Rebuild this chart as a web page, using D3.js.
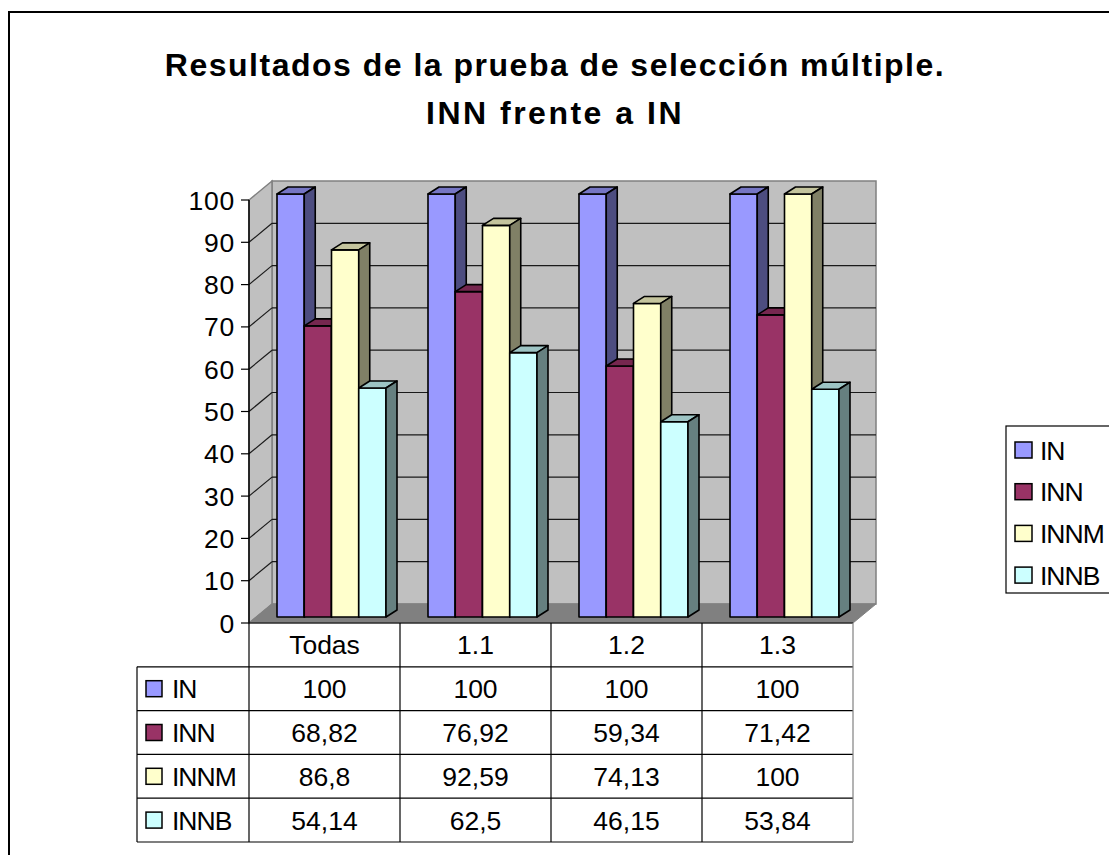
<!DOCTYPE html>
<html>
<head>
<meta charset="utf-8">
<script src="https://cdn.jsdelivr.net/npm/d3@7"></script>
<style>
  body { margin: 0; background: #fff; }
  svg text { font-family: "Liberation Sans", Arial, Helvetica, sans-serif; fill: #000; }
</style>
</head>
<body>
<div id="chart"></div>
<script>
// categories and series
var categories = ["Todas", "1.1", "1.2", "1.3"];
var seriesNames = ["IN", "INN", "INNM", "INNB"];
var seriesColors = ["#9999ff", "#993366", "#ffffcc", "#ccffff"];

var valuesIN = [100, 100, 100, 100];
var valuesINN = [68.82, 76.92, 59.34, 71.42];
var valuesINNM = [86.8, 92.59, 74.13, 100];
var valuesINNB = [54.14, 62.5, 46.15, 53.84];

var titleLines = ["Resultados de la prueba de selección múltiple.", "INN frente a IN"];
var yTicks = [0, 10, 20, 30, 40, 50, 60, 70, 80, 90, 100];

var seriesValues = [valuesIN, valuesINN, valuesINNM, valuesINNB];

var W = 1109, H = 855;
var plot = { left: 249, right: 853, top: 200, bottom: 623 };
var wall = { dx: 23, dy: -19 };       // depth of the 3D box
var barOff = { dx: 7, dy: -6 };       // bar front face offset from front plane
var barDepth = { dx: 11, dy: -7 };    // bar thickness in depth
var fontSize = 26.5;

var svg = d3.select("#chart").append("svg")
  .attr("width", W)
  .attr("height", H);

// outer frame
svg.append("rect")
  .attr("x", 9).attr("y", 12)
  .attr("width", 1300).attr("height", 1000)
  .attr("fill", "none")
  .attr("stroke", "#000")
  .attr("stroke-width", 2);

// title
svg.selectAll("text.title")
  .data(titleLines)
  .enter().append("text")
  .attr("class", "title")
  .attr("x", 555)
  .attr("y", function(d, i) { return 76 + i * 48; })
  .attr("text-anchor", "middle")
  .attr("font-size", 32)
  .attr("font-weight", "bold")
  .attr("letter-spacing", function(d, i) { return i === 0 ? 1.5 : 2.5; })
  .text(function(d) { return d; });

var x = d3.scaleBand()
  .domain(categories)
  .range([plot.left, plot.right]);

var xs = d3.scaleBand()
  .domain(seriesNames)
  .range([21, x.bandwidth() - 21]);

var y = d3.scaleLinear()
  .domain([0, 100])
  .range([plot.bottom, plot.top]);

function pts(arr) {
  return arr.map(function(p) { return p[0] + "," + p[1]; }).join(" ");
}

// walls
var y0 = y(0), y100 = y(100);
svg.append("polygon")
  .attr("points", pts([[plot.left + wall.dx, y100 + wall.dy], [plot.right + wall.dx, y100 + wall.dy],
    [plot.right + wall.dx, y0 + wall.dy], [plot.left + wall.dx, y0 + wall.dy]]))
  .attr("fill", "#c0c0c0")
  .attr("stroke", "#808080")
  .attr("stroke-width", 1.5);

svg.append("polygon")
  .attr("points", pts([[plot.left, y100], [plot.left + wall.dx, y100 + wall.dy],
    [plot.left + wall.dx, y0 + wall.dy], [plot.left, y0]]))
  .attr("fill", "#c0c0c0")
  .attr("stroke", "#808080")
  .attr("stroke-width", 1.5);

svg.append("polygon")
  .attr("points", pts([[plot.left, y0], [plot.left + wall.dx, y0 + wall.dy],
    [plot.right + wall.dx, y0 + wall.dy], [plot.right, y0]]))
  .attr("fill", "#808080")
  .attr("stroke", "#808080")
  .attr("stroke-width", 1);

// gridlines on back and side wall
var gridTicks = yTicks.filter(function(t) { return t > 0 && t < 100; });
svg.selectAll("line.grid-back")
  .data(gridTicks)
  .enter().append("line")
  .attr("x1", plot.left + wall.dx)
  .attr("x2", plot.right + wall.dx)
  .attr("y1", function(d) { return y(d) + wall.dy; })
  .attr("y2", function(d) { return y(d) + wall.dy; })
  .attr("stroke", "#1a1a1a")
  .attr("stroke-width", 1.2);

svg.selectAll("line.grid-side")
  .data(gridTicks)
  .enter().append("line")
  .attr("x1", plot.left)
  .attr("x2", plot.left + wall.dx)
  .attr("y1", function(d) { return y(d); })
  .attr("y2", function(d) { return y(d) + wall.dy; })
  .attr("stroke", "#1a1a1a")
  .attr("stroke-width", 1.2);

// y axis
svg.append("line")
  .attr("x1", plot.left).attr("x2", plot.left)
  .attr("y1", y100).attr("y2", y0)
  .attr("stroke", "#000").attr("stroke-width", 1.5);

svg.selectAll("line.ytick")
  .data(yTicks)
  .enter().append("line")
  .attr("x1", plot.left - 8).attr("x2", plot.left)
  .attr("y1", function(d) { return y(d); })
  .attr("y2", function(d) { return y(d); })
  .attr("stroke", "#000").attr("stroke-width", 1.2);

svg.selectAll("text.ylabel")
  .data(yTicks)
  .enter().append("text")
  .attr("x", plot.left - 14)
  .attr("y", function(d) { return y(d); })
  .attr("dy", "0.36em")
  .attr("text-anchor", "end")
  .attr("font-size", fontSize)
  .attr("letter-spacing", 0.8)
  .text(function(d) { return d; });

// bars
function shade(c, k) {
  var col = d3.rgb(c);
  return d3.rgb(col.r * k, col.g * k, col.b * k).toString();
}

categories.forEach(function(cat, ci) {
  seriesNames.forEach(function(s, si) {
    var v = seriesValues[si][ci];
    var x0 = x(cat) + xs(s) + barOff.dx;
    var x1 = x0 + xs.bandwidth();
    var yb = y(0) + barOff.dy;
    var yt = y(v) + barOff.dy;
    var g = svg.append("g").attr("class", "bar");
    var color = seriesColors[si];
    // front
    g.append("polygon")
      .attr("points", pts([[x0, yt], [x1, yt], [x1, yb], [x0, yb]]))
      .attr("fill", color);
    // top
    g.append("polygon")
      .attr("points", pts([[x0, yt], [x1, yt], [x1 + barDepth.dx, yt + barDepth.dy], [x0 + barDepth.dx, yt + barDepth.dy]]))
      .attr("fill", shade(color, 0.77));
    // side
    g.append("polygon")
      .attr("points", pts([[x1, yt], [x1 + barDepth.dx, yt + barDepth.dy], [x1 + barDepth.dx, yb + barDepth.dy], [x1, yb]]))
      .attr("fill", shade(color, 0.5));
    g.selectAll("polygon")
      .attr("stroke", "#000")
      .attr("stroke-width", 1.6)
      .attr("stroke-linejoin", "round");
  });
});

// data table
var rowH = 43.8;
var tableLeft = 137;
var rowsY = d3.range(6).map(function(i) { return plot.bottom + i * rowH; });

// horizontal lines
svg.append("line")
  .attr("x1", plot.left).attr("x2", plot.right)
  .attr("y1", rowsY[0]).attr("y2", rowsY[0])
  .attr("stroke", "#000").attr("stroke-width", 1.2);
svg.selectAll("line.trow")
  .data(rowsY.slice(1))
  .enter().append("line")
  .attr("x1", tableLeft).attr("x2", plot.right)
  .attr("y1", function(d) { return d; })
  .attr("y2", function(d) { return d; })
  .attr("stroke", "#000").attr("stroke-width", 1.2);

// vertical lines
var colX = categories.map(function(c) { return x(c); }).concat([plot.right]);
svg.selectAll("line.tcol")
  .data(colX)
  .enter().append("line")
  .attr("x1", function(d) { return d; })
  .attr("x2", function(d) { return d; })
  .attr("y1", rowsY[0]).attr("y2", rowsY[5])
  .attr("stroke", function(d, i) { return i === colX.length - 1 ? "#808080" : "#000"; })
  .attr("stroke-width", 1.2);
svg.append("line")
  .attr("x1", tableLeft).attr("x2", tableLeft)
  .attr("y1", rowsY[1]).attr("y2", rowsY[5])
  .attr("stroke", "#000").attr("stroke-width", 1.2);

// header labels
svg.selectAll("text.thead")
  .data(categories)
  .enter().append("text")
  .attr("x", function(d) { return x(d) + x.bandwidth() / 2; })
  .attr("y", rowsY[0] + rowH / 2)
  .attr("dy", "0.36em")
  .attr("text-anchor", "middle")
  .attr("font-size", fontSize)
  .text(function(d) { return d; });

// row labels with swatches, and values
seriesNames.forEach(function(s, si) {
  var cy = rowsY[si + 1] + rowH / 2;
  svg.append("rect")
    .attr("x", 146).attr("y", cy - 8)
    .attr("width", 16).attr("height", 16)
    .attr("fill", seriesColors[si])
    .attr("stroke", "#000").attr("stroke-width", 1.5);
  svg.append("text")
    .attr("x", 172).attr("y", cy)
    .attr("dy", "0.36em")
    .attr("font-size", fontSize)
    .attr("letter-spacing", -1)
    .text(s);
  svg.selectAll("text.val" + si)
    .data(seriesValues[si])
    .enter().append("text")
    .attr("x", function(d, i) { return x(categories[i]) + x.bandwidth() / 2; })
    .attr("y", cy)
    .attr("dy", "0.36em")
    .attr("text-anchor", "middle")
    .attr("font-size", fontSize)
    .text(function(d) { return String(d).replace(".", ","); });
});

// legend
var legend = svg.append("g").attr("class", "legend");
legend.append("rect")
  .attr("x", 1006).attr("y", 426)
  .attr("width", 200).attr("height", 167)
  .attr("fill", "#fff")
  .attr("stroke", "#000").attr("stroke-width", 1.2);
var legendItems = legend.selectAll("g.item")
  .data(seriesNames)
  .enter().append("g")
  .attr("transform", function(d, i) { return "translate(0," + (450 + i * 41.7) + ")"; });
legendItems.append("rect")
  .attr("x", 1015).attr("y", -8)
  .attr("width", 17).attr("height", 16)
  .attr("fill", function(d, i) { return seriesColors[i]; })
  .attr("stroke", "#000").attr("stroke-width", 1.5);
legendItems.append("text")
  .attr("x", 1040)
  .attr("dy", "0.36em")
  .attr("font-size", fontSize)
  .attr("letter-spacing", -1)
  .text(function(d) { return d; });
</script>
</body>
</html>
